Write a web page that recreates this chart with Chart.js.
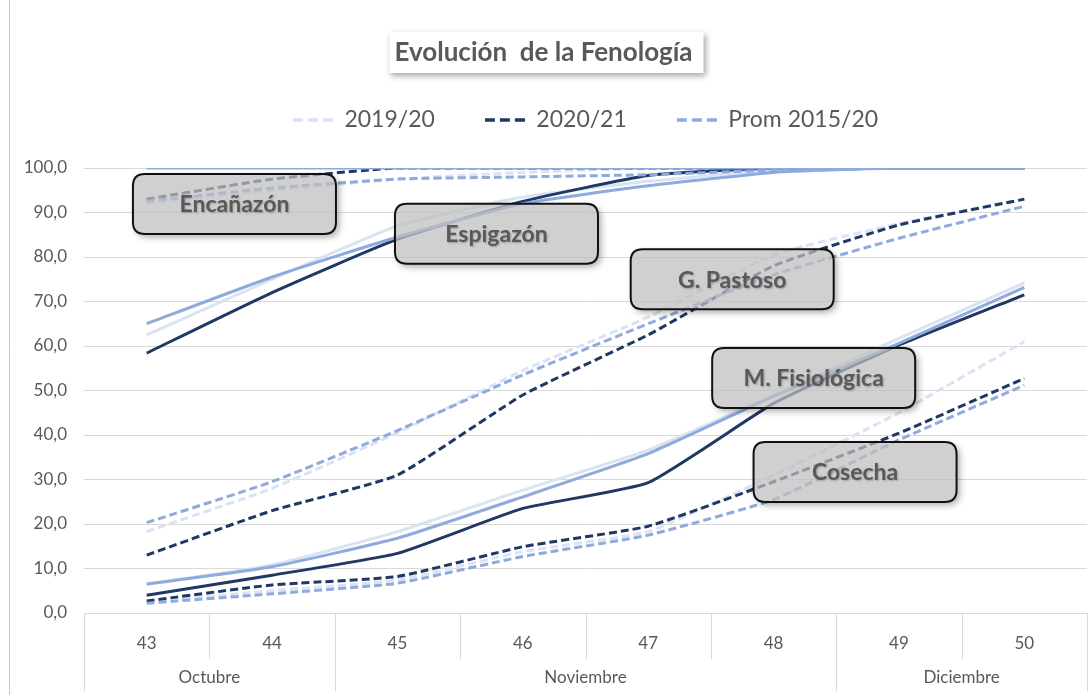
<!DOCTYPE html>
<html>
<head>
<meta charset="utf-8">
<script src="https://cdn.jsdelivr.net/npm/chart.js@4.4.1/dist/chart.umd.min.js"></script>
<style>
  html, body { margin: 0; padding: 0; background: #fff; }
  #wrap { position: relative; width: 1088px; height: 695px; }
</style>
</head>
<body>
<div id="wrap"><canvas id="fenologia" width="1088" height="695"></canvas></div>
<script>
// semanas y meses del eje X
const semanas = ['43', '44', '45', '46', '47', '48', '49', '50'];
const meses = ['Octubre', 'Noviembre', 'Diciembre'];
const semanasPorMes = [2, 4, 2];

const temporadas = ['2019/20', '2020/21', 'Prom 2015/20'];
const coloresTemporada = ['#dae3f3', '#203864', '#8faadc'];

// % de avance por etapa (una serie por temporada)
const tope = [100, 100, 100, 100, 100, 100, 100, 100];

const encanazon2019 = [92, 95, 97.5, 99, 100, 100, 100, 100];
const encanazon2020 = [93, 97.5, 100, 100, 100, 100, 100, 100];
const encanazonProm = [92.5, 95.5, 97.5, 98, 98.5, 99.5, 100, 100];

const espigazon2019 = [62.5, 75, 87, 93.5, 97, 99.5, 100, 100];
const espigazon2020 = [58.4, 72, 84, 92.5, 98.3, 100, 100, 100];
const espigazonProm = [65, 75.5, 84.5, 92, 96, 99, 100, 100];

const pastoso2019 = [18.3, 28, 40.5, 54.5, 66.5, 80.5, 87.5, 93];
const pastoso2020 = [13, 23, 31, 49, 62.5, 78, 87.2, 93];
const pastosoProm = [20.3, 29.5, 41, 53.5, 65, 76, 84.2, 91.4];

const fisiologica2019 = [6.5, 10.8, 18.3, 27.6, 36.6, 49, 61.7, 74.2];
const fisiologica2020 = [4, 8.5, 13.4, 23.5, 29.3, 47.1, 60.2, 71.5];
const fisiologicaProm = [6.5, 10.4, 16.8, 26.1, 35.8, 48.7, 60.6, 73.2];

const cosecha2019 = [2.5, 5, 7.4, 13.8, 18.3, 31, 45, 61];
const cosecha2020 = [2.7, 6.3, 8.2, 14.9, 19.5, 29.5, 40.4, 52.7];
const cosechaProm = [2.2, 4.3, 6.7, 12.7, 17.5, 25.5, 38.9, 51.2];

const etapas = ['Encañazón', 'Espigazón', 'G. Pastoso', 'M. Fisiológica', 'Cosecha'];
const etapaPunteada = [true, false, true, false, true];
const series = [
  [encanazon2019, encanazon2020, encanazonProm],
  [espigazon2019, espigazon2020, espigazonProm],
  [pastoso2019, pastoso2020, pastosoProm],
  [fisiologica2019, fisiologica2020, fisiologicaProm],
  [cosecha2019, cosecha2020, cosechaProm]
];

// cuadros de texto: punto (indice de semana, %) donde va el centro
const cuadros = [
  { texto: 'Encañazón', x: 0.70, y: 91.9 },
  { texto: 'Espigazón', x: 2.79, y: 85.2 },
  { texto: 'G. Pastoso', x: 4.67, y: 75.0 },
  { texto: 'M. Fisiológica', x: 5.32, y: 52.8 },
  { texto: 'Cosecha', x: 5.65, y: 31.7 }
];

const ordenDibujo = [2, 1, 0]; // prom encima, luego 2020/21, luego 2019/20
const gris = '#595959';
const grilla = '#d9d9d9';

let datasets = [{
  label: 'Prom 2015/20',
  etapa: 'tope',
  data: tope,
  borderColor: coloresTemporada[2],
  backgroundColor: coloresTemporada[2],
  borderWidth: 3,
  pointRadius: 0,
  order: 0
}];

etapas.forEach(function (etapa, e) {
  temporadas.forEach(function (temp, t) {
    datasets.push({
      label: temp,
      etapa: etapa,
      data: series[e][t],
      borderColor: coloresTemporada[t],
      backgroundColor: coloresTemporada[t],
      borderWidth: 3,
      borderDash: etapaPunteada[e] ? [8, 4] : [],
      pointRadius: 0,
      tension: 0.15,
      order: ordenDibujo[t]
    });
  });
});

// muestras punteadas para la leyenda
const muestras = coloresTemporada.map(function (c) {
  const cv = document.createElement('canvas');
  cv.width = 40;
  cv.height = 4;
  const g = cv.getContext('2d');
  g.strokeStyle = c;
  g.lineWidth = 3.5;
  g.setLineDash([10, 5]);
  g.beginPath();
  g.moveTo(0, 2);
  g.lineTo(40, 2);
  g.stroke();
  return cv;
});

function cajaRedondeada(ctx, x, y, w, h, r) {
  ctx.moveTo(x + r, y);
  ctx.lineTo(x + w - r, y);
  ctx.quadraticCurveTo(x + w, y, x + w, y + r);
  ctx.lineTo(x + w, y + h - r);
  ctx.quadraticCurveTo(x + w, y + h, x + w - r, y + h);
  ctx.lineTo(x + r, y + h);
  ctx.quadraticCurveTo(x, y + h, x, y + h - r);
  ctx.lineTo(x, y + r);
  ctx.quadraticCurveTo(x, y, x + r, y);
  ctx.closePath();
}

const decoracion = {
  id: 'decoracion',
  beforeDraw(chart) {
    const ctx = chart.ctx;
    ctx.save();
    ctx.fillStyle = '#fff';
    ctx.fillRect(0, 0, chart.width, chart.height);
    // borde izquierdo del grafico
    ctx.strokeStyle = '#c8c8c8';
    ctx.lineWidth = 1;
    ctx.beginPath();
    ctx.moveTo(9.5, 0);
    ctx.lineTo(9.5, chart.height);
    ctx.stroke();
    // caja del titulo con sombra
    const t = chart.titleBlock;
    const opts = chart.options.plugins.title;
    ctx.font = 'bold ' + opts.font.size + 'px Lato';
    const w = ctx.measureText(opts.text).width + 16;
    const cy = t.top + opts.padding.top + opts.font.size / 2;
    const cx = (t.left + t.right) / 2 + 3;
    ctx.shadowColor = 'rgba(0,0,0,0.35)';
    ctx.shadowBlur = 6;
    ctx.shadowOffsetX = 2;
    ctx.shadowOffsetY = 3;
    ctx.fillStyle = '#fff';
    ctx.fillRect(cx - w / 2, cy - 21, w, 41);
    ctx.restore();
  },
  afterDatasetsDraw(chart) {
    const ctx = chart.ctx;
    const xs = chart.scales.x, ys = chart.scales.y;
    cuadros.forEach(function (c) {
      const cx = xs.getPixelForValue(c.x);
      const cy = ys.getPixelForValue(c.y);
      const w = 203, h = 60;
      const x0 = cx - w / 2, y0 = cy - h / 2;
      // sombra solo por fuera del cuadro
      ctx.save();
      ctx.beginPath();
      ctx.rect(0, 0, chart.width, chart.height);
      cajaRedondeada(ctx, x0, y0, w, h, 12);
      ctx.clip('evenodd');
      ctx.shadowColor = 'rgba(0,0,0,0.35)';
      ctx.shadowBlur = 7;
      ctx.shadowOffsetX = 3;
      ctx.shadowOffsetY = 3;
      ctx.beginPath();
      cajaRedondeada(ctx, x0, y0, w, h, 12);
      ctx.fillStyle = '#888';
      ctx.fill();
      ctx.restore();

      ctx.save();
      ctx.beginPath();
      cajaRedondeada(ctx, x0, y0, w, h, 12);
      ctx.fillStyle = 'rgba(190,190,190,0.72)';
      ctx.fill();
      ctx.lineWidth = 2;
      ctx.strokeStyle = '#111';
      ctx.stroke();
      ctx.shadowColor = 'rgba(0,0,0,0.25)';
      ctx.shadowBlur = 2;
      ctx.shadowOffsetX = 1;
      ctx.shadowOffsetY = 1;
      ctx.fillStyle = gris;
      ctx.font = 'bold 23px Lato';
      ctx.textAlign = 'center';
      ctx.textBaseline = 'middle';
      ctx.fillText(c.texto, cx, cy + 1);
      ctx.restore();
    });
  },
  afterDraw(chart) {
    const ctx = chart.ctx;
    const xs = chart.scales.x;
    const paso = xs.getPixelForValue(1) - xs.getPixelForValue(0);
    const borde = function (i) { return xs.getPixelForValue(i) - paso / 2; };
    const y0 = chart.chartArea.bottom;
    let inicios = [0];
    semanasPorMes.forEach(function (n, i) { inicios.push(inicios[i] + n); });
    ctx.save();
    ctx.strokeStyle = grilla;
    ctx.lineWidth = 1;
    for (let i = 0; i <= semanas.length; i++) {
      const largo = inicios.indexOf(i) >= 0 ? 78 : 46;
      const x = Math.round(borde(i)) + 0.5;
      ctx.beginPath();
      ctx.moveTo(x, y0);
      ctx.lineTo(x, y0 + largo);
      ctx.stroke();
    }
    ctx.fillStyle = gris;
    ctx.font = '17px Lato';
    ctx.textAlign = 'center';
    ctx.textBaseline = 'middle';
    meses.forEach(function (m, i) {
      const x = (borde(inicios[i]) + borde(inicios[i + 1])) / 2;
      ctx.fillText(m, x, y0 + 65);
    });
    ctx.restore();
  }
};

new Chart(document.getElementById('fenologia').getContext('2d'), {
  type: 'line',
  data: { labels: semanas, datasets: datasets },
  plugins: [decoracion],
  options: {
    responsive: false,
    animation: false,
    layout: { padding: { top: 0, right: 1, bottom: 0, left: 0 } },
    plugins: {
      title: {
        display: true,
        text: 'Evolución  de la Fenología',
        color: gris,
        font: { family: 'Lato', size: 26, weight: 'bold', lineHeight: 1 },
        padding: { top: 40, bottom: -7.5 }
      },
      subtitle: {
        display: true,
        text: '',
        weight: 500,
        font: { family: 'Lato', size: 26.5, lineHeight: 1 },
        padding: 0
      },
      legend: {
        display: true,
        position: 'top',
        fullSize: false,
        labels: {
          usePointStyle: true,
          pointStyleWidth: 40,
          padding: 50,
          color: gris,
          font: { family: 'Lato', size: 23 },
          generateLabels: function () {
            return temporadas.map(function (t, i) {
              return {
                text: t,
                pointStyle: muestras[i],
                fillStyle: coloresTemporada[i],
                strokeStyle: coloresTemporada[i],
                lineWidth: 0,
                fontColor: gris,
                hidden: false,
                datasetIndex: i + 1
              };
            });
          }
        }
      },
      tooltip: { enabled: false }
    },
    scales: {
      x: {
        offset: true,
        grid: { display: false },
        border: { display: true, color: grilla, width: 1 },
        ticks: {
          color: gris,
          font: { family: 'Lato', size: 17 },
          padding: 12,
          maxRotation: 0,
          autoSkip: false
        },
        afterFit: function (scale) { scale.height = 82; }
      },
      y: {
        min: 0,
        max: 100,
        grid: { color: grilla, drawTicks: false },
        border: { display: false },
        ticks: {
          stepSize: 10,
          color: gris,
          padding: 17,
          font: { family: 'Lato', size: 17 },
          callback: function (v) { return v.toFixed(1).replace('.', ','); }
        },
        afterFit: function (scale) { scale.width = 84; }
      }
    }
  }
});
</script>
</body>
</html>
